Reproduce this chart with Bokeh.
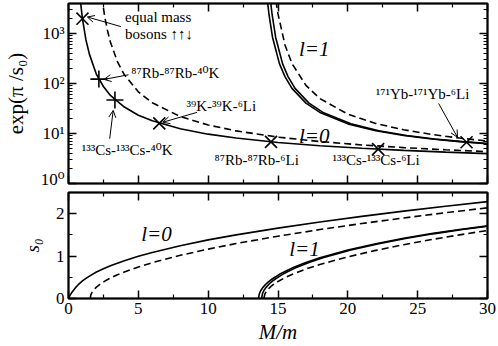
import numpy as np
from bokeh.plotting import figure
from bokeh.layouts import column
from bokeh.models import (Range1d, LinearAxis, LogAxis, FixedTicker, Label, Arrow,
                          OpenHead, ColumnDataSource)
from bokeh.embed import file_html
from bokeh.resources import INLINE

# ---------------- data ----------------
# l = 0, exact (solid)
mr_l0_solid = [0, 0.1, 0.25, 0.5, 0.7, 0.8, 0.9, 1.0, 1.25, 1.5, 2.0, 2.5, 3, 4, 5, 6, 8, 10, 12, 15, 18, 21, 24, 27, 30]
s0_l0_solid = [0, 0.067, 0.15, 0.256, 0.326, 0.357, 0.386, 0.414, 0.475, 0.528, 0.625, 0.703, 0.774, 0.892,
               0.998, 1.087, 1.246, 1.382, 1.50, 1.66, 1.805, 1.937, 2.06, 2.174, 2.284]
# l = 0, dashed
mr_l0_dash = [1.555, 1.6, 1.7, 1.85, 2.0, 2.25, 2.4, 2.6, 2.8, 3, 3.5, 4, 5, 6, 8, 10, 12, 15, 18, 21, 24, 27, 30]
s0_l0_dash = [0, 0.085, 0.153, 0.218, 0.268, 0.334, 0.369, 0.410, 0.447, 0.482, 0.559, 0.627, 0.744, 0.845,
              1.018, 1.165, 1.296, 1.470, 1.626, 1.768, 1.900, 2.023, 2.139]
# l = 1, solid (first)
mr_l1_solid_a = [13.607, 13.657, 13.757, 13.907, 14.107, 14.25, 14.357, 14.607, 15.107, 15.5, 16.0, 17.0, 18.0,
                 20, 22, 24, 26, 28, 30]
s0_l1_solid_a = [0, 0.105, 0.182, 0.257, 0.331, 0.375, 0.404, 0.466, 0.570, 0.638, 0.717, 0.848, 0.959,
                 1.143, 1.293, 1.420, 1.531, 1.628, 1.713]
# l = 1, solid (second)
mr_l1_solid_b = [13.83, 13.88, 13.98, 14.13, 14.33, 14.47, 14.58, 14.83, 15.33, 15.72, 16.22, 17.22, 18.22,
                 20.22, 22.22, 24.22, 26.22, 28.22, 30.22]
s0_l1_solid_b = [0, 0.105, 0.182, 0.257, 0.331, 0.375, 0.404, 0.466, 0.570, 0.638, 0.717, 0.848, 0.959,
                 1.143, 1.293, 1.420, 1.531, 1.628, 1.713]
# l = 1, dashed
mr_l1_dash = [13.99, 14.05, 14.15, 14.3, 14.5, 14.75, 14.9, 15.0, 15.5, 16, 17, 18, 20, 22, 24, 26, 28, 30]
s0_l1_dash = [0, 0.096, 0.159, 0.222, 0.286, 0.349, 0.382, 0.402, 0.492, 0.568, 0.695, 0.803, 0.983,
              1.135, 1.269, 1.390, 1.501, 1.604]

# marked systems
sys_ratio = [1.0, 2.175, 3.325, 6.5, 14.5, 22.17, 28.5]
sys_scale = [1986, 122.7, 47, 16, 6.8, 4.88, 6.7]
sys_marker = ["x", "cross", "cross", "x", "x", "x", "x"]

x_ticks = [0, 5, 10, 15, 20, 25, 30]
x_minor = [2.5, 7.5, 12.5, 17.5, 22.5, 27.5]
log_ticks = [1, 10, 100, 1000]
log_labels = {1: "10⁰", 10: "10¹", 100: "10²", 1000: "10³"}
s_ticks = [0, 1, 2]
s_minor = [0.5, 1.5]

FONT = "Liberation Serif, DejaVu Serif"


def to_top(xs, ss):
    xs = np.asarray(xs, float)
    ss = np.asarray(ss, float)
    m = ss > 0
    return xs[m], np.exp(np.pi / ss[m])


def style_axis(ax, labels=True):
    ax.major_tick_in = 8
    ax.major_tick_out = 0
    ax.minor_tick_in = 4
    ax.minor_tick_out = 0
    ax.axis_line_width = 1.5
    ax.axis_line_color = "black"
    ax.major_tick_line_width = 1.5
    ax.minor_tick_line_width = 1.2
    ax.major_tick_line_color = "black"
    ax.minor_tick_line_color = "black"
    ax.major_label_text_font = FONT
    ax.axis_label_text_font = FONT
    ax.axis_label_text_color = "black"
    if labels:
        ax.major_label_text_color = "black"
        ax.major_label_text_font_size = "17px"
        ax.major_label_standoff = 4
    else:
        ax.major_label_text_color = None
        ax.major_label_text_font_size = "1px"
        ax.major_label_standoff = 0


# ---------------- top panel ----------------
top = figure(width=498, height=188, x_range=Range1d(0, 30), y_range=Range1d(1, 4000),
             y_axis_type="log", output_backend="svg", toolbar_location=None,
             min_border_left=68, min_border_right=11, min_border_top=3, min_border_bottom=5)
top.outline_line_color = "black"
top.outline_line_width = 2
top.xgrid.visible = False
top.ygrid.visible = False

xt = FixedTicker(ticks=x_ticks, minor_ticks=x_minor)
yminor = [k * d for d in (1, 10, 100, 1000) for k in range(2, 10) if k * d < 4000]
yt = FixedTicker(ticks=log_ticks, minor_ticks=yminor)

top.xaxis.ticker = xt
style_axis(top.xaxis[0], labels=False)
top.yaxis.ticker = yt
top.yaxis.major_label_overrides = log_labels
style_axis(top.yaxis[0])
top.yaxis.axis_label = "exp(π /s₀)"
top.yaxis.axis_label_text_font_size = "21px"
top.yaxis.axis_label_text_font_style = "normal"
top.yaxis.axis_label_standoff = 10

ax_top = LinearAxis(ticker=xt)
style_axis(ax_top, labels=False)
top.add_layout(ax_top, "above")
ay_right = LogAxis(ticker=yt)
style_axis(ay_right, labels=False)
top.add_layout(ay_right, "right")

for xs, ss, dash in [(mr_l0_solid, s0_l0_solid, "solid"), (mr_l0_dash, s0_l0_dash, "dashed"),
                     (mr_l1_solid_a, s0_l1_solid_a, "solid"), (mr_l1_solid_b, s0_l1_solid_b, "solid"),
                     (mr_l1_dash, s0_l1_dash, "dashed")]:
    tx, ty = to_top(xs, ss)
    top.line(tx, ty, line_color="black", line_width=1.6,
             line_dash=("7 4" if dash == "dashed" else "solid"))

src = ColumnDataSource(dict(x=sys_ratio, y=sys_scale, m=sys_marker))
top.scatter("x", "y", source=src, marker="m", size=17, line_color="black", line_width=1.6,
            fill_color=None)


def lab(p, x, y, text, size="15px", style="normal", align="left"):
    p.add_layout(Label(x=x, y=y, text=text, text_font=FONT, text_font_size=size,
                       text_font_style=style, text_baseline="middle", text_align=align,
                       text_color="black"))


def arr(p, x0, y0, x1, y1):
    p.add_layout(Arrow(end=OpenHead(size=7, line_width=1, line_color="black"),
                       x_start=x0, y_start=y0, x_end=x1, y_end=y1,
                       line_width=1, line_color="black"))


lab(top, 4.05, 2150, "equal mass")
lab(top, 4.05, 1000, "bosons ↑↑↓")
arr(top, 3.75, 1380, 1.35, 2150)
lab(top, 4.5, 166, "⁸⁷Rb-⁸⁷Rb-⁴⁰K")
arr(top, 4.3, 150, 2.55, 121)
lab(top, 8.45, 36, "³⁹K-³⁹K-⁶Li")
arr(top, 9.2, 26.5, 6.75, 16.8)
lab(top, 0.95, 4.6, "¹³³Cs-¹³³Cs-⁴⁰K")
arr(top, 2.95, 7.9, 3.2, 29)
lab(top, 10.45, 2.9, "⁸⁷Rb-⁸⁷Rb-⁶Li")
lab(top, 18.9, 2.9, "¹³³Cs-¹³³Cs-⁶Li")
lab(top, 22.0, 63, "¹⁷¹Yb-¹⁷¹Yb-⁶Li")
arr(top, 26.5, 40, 27.85, 8.4)
lab(top, 16.5, 500, "l=1", size="21px", style="italic")
lab(top, 16.5, 9.1, "l=0", size="21px", style="italic")

# ---------------- bottom panel ----------------
bot = figure(width=498, height=158, x_range=Range1d(0, 30), y_range=Range1d(0, 2.5),
             output_backend="svg", toolbar_location=None,
             min_border_left=68, min_border_right=11, min_border_top=4, min_border_bottom=47)
bot.outline_line_color = "black"
bot.outline_line_width = 2
bot.xgrid.visible = False
bot.ygrid.visible = False

st = FixedTicker(ticks=s_ticks, minor_ticks=s_minor)
bot.xaxis.ticker = xt
style_axis(bot.xaxis[0])
bot.xaxis.axis_label = "M/m"
bot.xaxis.axis_label_text_font_size = "21px"
bot.xaxis.axis_label_text_font_style = "italic"
bot.xaxis.axis_label_standoff = 3
bot.yaxis.ticker = st
style_axis(bot.yaxis[0])
bot.yaxis.axis_label = "s₀"
bot.yaxis.axis_label_text_font_size = "19px"
bot.yaxis.axis_label_text_font_style = "italic"
bot.yaxis.axis_label_standoff = 10

bx_top = LinearAxis(ticker=xt)
style_axis(bx_top, labels=False)
bot.add_layout(bx_top, "above")
by_right = LinearAxis(ticker=st)
style_axis(by_right, labels=False)
bot.add_layout(by_right, "right")

for xs, ss, dash in [(mr_l0_solid, s0_l0_solid, "solid"), (mr_l0_dash, s0_l0_dash, "dashed"),
                     (mr_l1_solid_a, s0_l1_solid_a, "solid"), (mr_l1_solid_b, s0_l1_solid_b, "solid"),
                     (mr_l1_dash, s0_l1_dash, "dashed")]:
    bot.line(xs, ss, line_color="black", line_width=1.6,
             line_dash=("7 4" if dash == "dashed" else "solid"))

lab(bot, 5.2, 1.51, "l=0", size="21px", style="italic")
lab(bot, 15.8, 1.16, "l=1", size="21px", style="italic")

layout = column(top, bot)
open("out.html", "w").write(file_html(layout, INLINE))
